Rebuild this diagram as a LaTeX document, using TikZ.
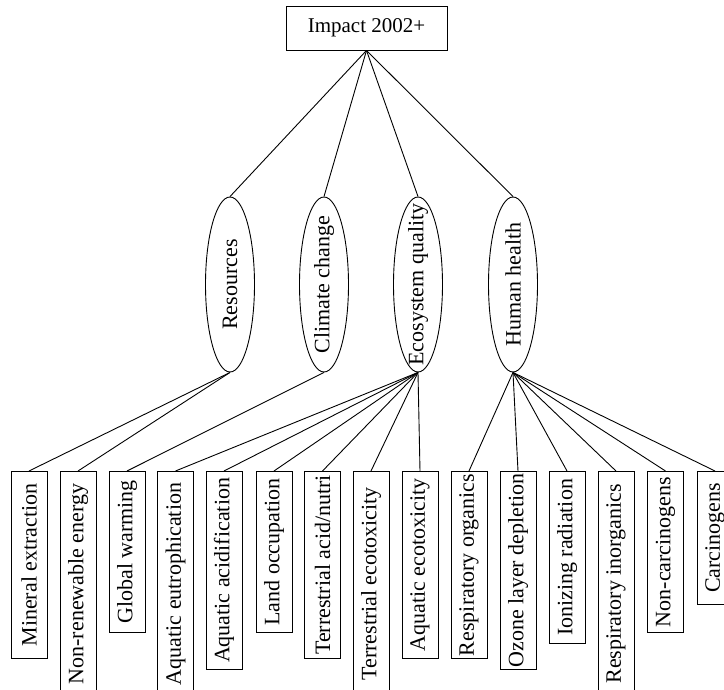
\documentclass[tikz,border=0pt]{standalone}
\usepackage{fontspec}
\setmainfont{Liberation Serif}
\usetikzlibrary{shapes.geometric}

\begin{document}
\begin{tikzpicture}[x=1pt, y=-1pt, line width=0.9pt,
  every node/.style={font=\fontsize{22}{26}\selectfont},
  area/.style={draw, ellipse, rotate=90, inner sep=0pt,
               minimum width=175pt, minimum height=49pt},
  leaf/.style={draw, rotate=90, anchor=east, inner sep=0pt,
               minimum height=36pt}]
  \useasboundingbox (0,0) rectangle (724,690);

  % root
  \node[draw, minimum width=161pt, minimum height=44pt] (root) at (366.5,28)
    {\fontsize{21}{25}\selectfont Impact 2002+};

  % damage categories
  \node[area] (res)  at (230,284.5) {\makebox[0pt]{Resources}};
  \node[area] (clim) at (324,284.5) {\makebox[0pt]{Climate change}};
  \node[area] (eco)  at (418,284.5) {\makebox[0pt]{Ecosystem quality}};
  \node[area] (hum)  at (513,284.5) {\makebox[0pt]{Human health}};

  % midpoint categories
  \node[leaf, minimum width=187pt] (minext)    at (29,471)    {Mineral extraction};
  \node[leaf, minimum width=225pt] (nonren)    at (78,471)    {Non-renewable energy};
  \node[leaf, minimum width=161pt] (glob)      at (127,471)   {Global warming};
  \node[leaf, minimum width=225pt] (aqeut)     at (175.5,471) {Aquatic eutrophication};
  \node[leaf, minimum width=198pt] (aqacid)    at (224,471)   {Aquatic acidification};
  \node[leaf, minimum width=161pt] (land)      at (274,471)   {Land occupation};
  \node[leaf, minimum width=187pt] (teracid)   at (322.5,471) {Terrestrial acid/nutri};
  \node[leaf, minimum width=225pt] (tereco)    at (371,471)   {Terrestrial ecotoxicity};
  \node[leaf, minimum width=187pt] (aqeco)     at (420,471)   {Aquatic ecotoxicity};
  \node[leaf, minimum width=187pt] (resporg)   at (469,471)   {Respiratory organics};
  \node[leaf, minimum width=198pt] (ozone)     at (518,471)   {Ozone layer depletion};
  \node[leaf, minimum width=172pt] (ioniz)     at (567,471)   {Ionizing radiation};
  \node[leaf, minimum width=225pt] (respinorg) at (616,471)   {Respiratory inorganics};
  \node[leaf, minimum width=161pt] (noncarc)   at (665.5,471) {Non-carcinogens};
  \node[leaf, minimum width=133pt] (carc)      at (715,471)   {Carcinogens};

  % links
  \draw (root.south) -- (res.east);
  \draw (root.south) -- (clim.east);
  \draw (root.south) -- (eco.east);
  \draw (root.south) -- (hum.east);

  \draw (res.west) -- (minext.east);
  \draw (res.west) -- (nonren.east);
  \draw (clim.west) -- (glob.east);
  \draw (eco.west) -- (aqeut.east);
  \draw (eco.west) -- (aqacid.east);
  \draw (eco.west) -- (land.east);
  \draw (eco.west) -- (teracid.east);
  \draw (eco.west) -- (tereco.east);
  \draw (eco.west) -- (aqeco.east);
  \draw (hum.west) -- (resporg.east);
  \draw (hum.west) -- (ozone.east);
  \draw (hum.west) -- (ioniz.east);
  \draw (hum.west) -- (respinorg.east);
  \draw (hum.west) -- (noncarc.east);
  \draw (hum.west) -- (carc.east);
\end{tikzpicture}
\end{document}
